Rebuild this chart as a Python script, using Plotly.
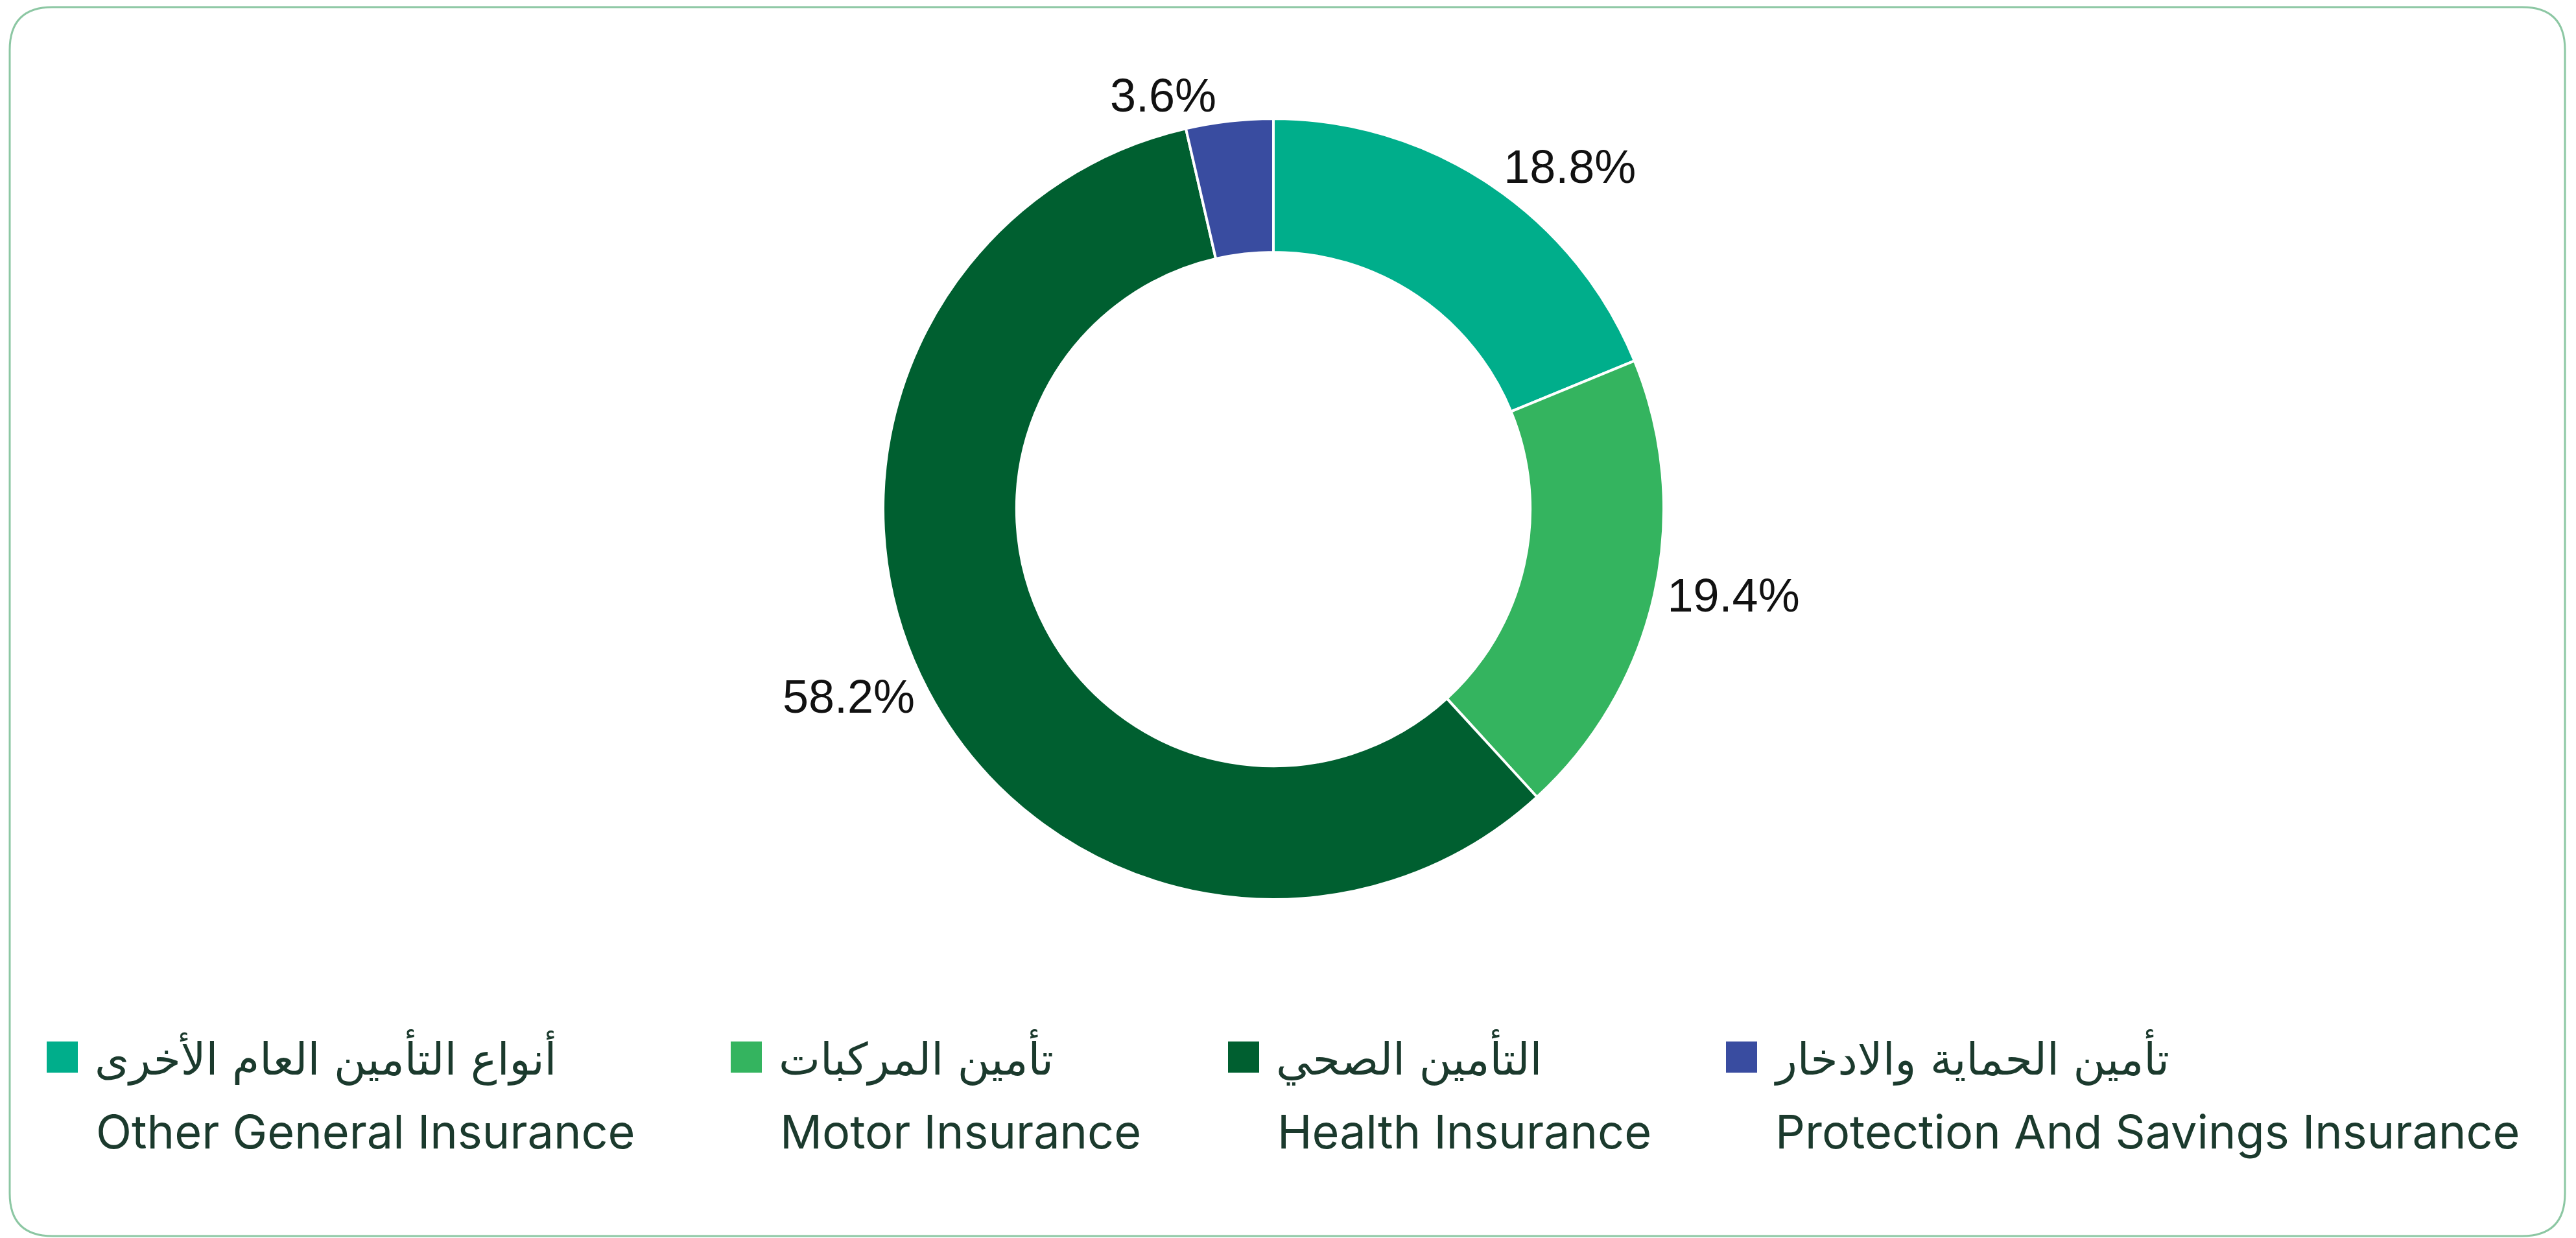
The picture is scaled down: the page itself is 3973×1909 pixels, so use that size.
import plotly.graph_objects as go

# ---- data ----
categories_ar = ["أنواع التأمين العام الأخرى", "تأمين المركبات", "التأمين الصحي", "تأمين الحماية والادخار"]
categories_en = ["Other General Insurance", "Motor Insurance", "Health Insurance", "Protection And Savings Insurance"]
shares = [18.8, 19.4, 58.2, 3.6]

# ---- styles ----
colors = ["#00AE8B", "#34B45F", "#005F30", "#394CA0"]
W, H = 3973, 1909
CX, CY, R = 1964, 785, 602
TEXT_DARK = "#1B3A2D"

def px(x):
    return x / W

def py(y):
    return 1 - y / H

fig = go.Figure(go.Pie(
    labels=categories_en,
    values=shares,
    hole=0.658,
    sort=False,
    direction="clockwise",
    rotation=0,
    marker=dict(colors=colors, line=dict(color="white", width=4)),
    texttemplate="%{value:.1f}%",
    textposition="outside",
    textfont=dict(family="Liberation Sans, Arial", size=72, color="#111111"),
    domain=dict(x=[px(CX - R), px(CX + R)], y=[py(CY + R), py(CY - R)]),
    showlegend=False,
    hoverinfo="label+percent",
))

# ---- custom legend ----
legend_left = [72, 1127, 1894, 2662]
sq = 48
sq_cy = 1630
ar_cy = 1630
en_cy = 1744
shapes = []
annotations = []
for i, (ar, en) in enumerate(zip(categories_ar, categories_en)):
    x0 = legend_left[i]
    shapes.append(dict(type="rect", xref="paper", yref="paper",
                       x0=px(x0), x1=px(x0 + sq), y0=py(sq_cy + sq / 2), y1=py(sq_cy - sq / 2),
                       fillcolor=colors[i], line=dict(width=0)))
    annotations.append(dict(xref="paper", yref="paper", x=px(x0 + sq + 24), y=py(ar_cy),
                            xanchor="left", yanchor="middle", showarrow=False, text=ar,
                            font=dict(family="DejaVu Sans", size=68, color=TEXT_DARK)))
    annotations.append(dict(xref="paper", yref="paper", x=px(x0 + sq + 26), y=py(en_cy),
                            xanchor="left", yanchor="middle", showarrow=False, text=en,
                            font=dict(family="Inter, Lato, DejaVu Sans", size=72, color=TEXT_DARK)))

# ---- rounded border ----
L, T, Rr, B, rad = 15, 11, 3956, 1906, 66
border = (
    f"M {px(L + rad)},{py(T)} L {px(Rr - rad)},{py(T)} "
    f"Q {px(Rr)},{py(T)} {px(Rr)},{py(T + rad)} "
    f"L {px(Rr)},{py(B - rad)} Q {px(Rr)},{py(B)} {px(Rr - rad)},{py(B)} "
    f"L {px(L + rad)},{py(B)} Q {px(L)},{py(B)} {px(L)},{py(B - rad)} "
    f"L {px(L)},{py(T + rad)} Q {px(L)},{py(T)} {px(L + rad)},{py(T)} Z"
)
shapes.append(dict(type="path", xref="paper", yref="paper", path=border,
                   line=dict(color="#8CC7A3", width=3), fillcolor="rgba(0,0,0,0)", layer="below"))

fig.update_layout(
    width=W, height=H,
    margin=dict(l=0, r=0, t=0, b=0),
    paper_bgcolor="white",
    plot_bgcolor="white",
    showlegend=False,
    shapes=shapes,
    annotations=annotations,
)

fig.write_html("out.html", config={"displayModeBar": False},
               post_script="document.body.style.margin='0px';document.body.style.overflow='hidden';")
